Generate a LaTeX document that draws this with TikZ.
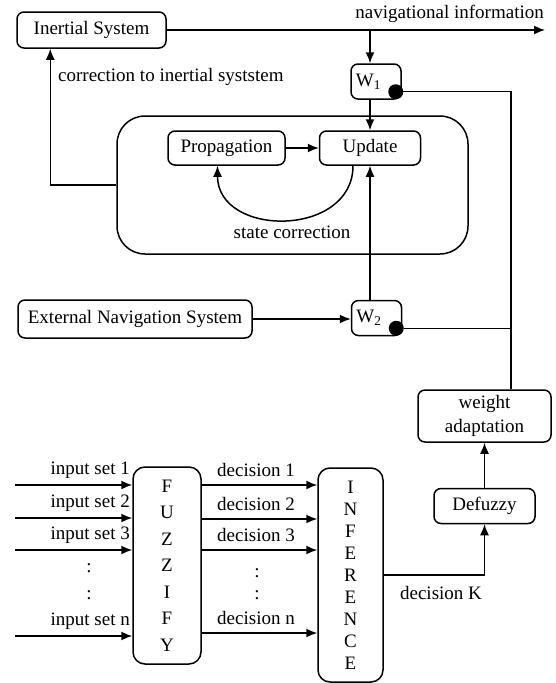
\documentclass[tikz,border=0pt]{standalone}
\usepackage{fontspec}
\setmainfont{Liberation Serif}
\usetikzlibrary{arrows.meta,positioning}
\tikzset{
  blk/.style={draw,line width=1.5pt,rounded corners=7pt,align=center,inner sep=2pt},
  wbox/.style={blk,minimum width=50pt,minimum height=35pt},
  bar/.style={blk,rounded corners=12pt},
  lbl/.style={inner sep=1pt},
  knob/.style={circle,fill,inner sep=0pt,minimum size=15pt},
  arrow/.style={-{Latex[length=11pt,width=9pt]},line width=1.5pt},
  wire/.style={line width=1.1pt}
}

\begin{document}
\begin{tikzpicture}[x=1pt,y=-1pt,font=\fontsize{19}{22}\selectfont,node distance=33pt]
\useasboundingbox (0,0) rectangle (556,683);
\node[blk,minimum width=149pt,minimum height=36pt] (inertial) at (91.5,30) {Inertial System};
\node[wbox] (w1) at (376,81.5) {W\textsubscript{1}\hspace*{15pt}};
\node[knob] (k1) at ([xshift=-6pt,yshift=8pt]w1.south east) {};
\node[blk,rounded corners=28pt,minimum width=351pt,minimum height=138pt] (filter) at (292.5,185) {};
\node[blk,minimum width=117pt,minimum height=34pt] (prop) at (226.5,148) {Propagation};
\node[blk,minimum width=101pt,minimum height=34pt,right=33pt of prop] (upd) {Update};
\node[blk,minimum width=234pt,minimum height=38pt] (ext) at (135,319) {External Navigation System};
\node[wbox] (w2) at (376.5,318) {W\textsubscript{2}\hspace*{15pt}};
\node[knob] (k2) at ([xshift=-6pt,yshift=8pt]w2.south east) {};
\node[blk,minimum width=133pt,minimum height=52pt,inner sep=1pt,font=\fontsize{19}{24}\selectfont] (wadapt) at (484.5,416) {weight\\adaptation};
\node[blk,minimum width=101pt,minimum height=35pt,below=45pt of wadapt] (defuzzy) {Defuzzy};
\node[bar,minimum width=68pt,minimum height=197pt,font=\fontsize{19}{26.5}\selectfont] (fuzz) at (167,565.5) {F\\U\\Z\\Z\\I\\F\\Y};
\node[bar,minimum width=65pt,minimum height=214pt,font=\fontsize{19}{22}\selectfont] (infer) at (350.5,575) {I\\N\\F\\E\\R\\E\\N\\C\\E};
\coordinate (navend) at (545,30);
\coordinate (rail) at (511,0);

\node[lbl,anchor=east] (navlbl) at (545,14) {navigational information};
\node[lbl,anchor=west] (corrlbl) at (57,77) {correction to inertial syststem};
\node[lbl] (statelbl) at (292,232) {state correction};
\node[lbl] (klbl) at (441,593) {decision K};

\draw[arrow] (inertial.east) -- (navend);
\draw[arrow] (inertial.east -| upd) -- (w1.north -| upd);
\draw[arrow] (w1.south -| upd) -- (upd.north);
\draw[arrow] (prop) -- (upd);
\draw[arrow] ([xshift=-17pt]upd.south) .. controls +(0,72) and +(0,72) .. ([xshift=-9pt]prop.south);
\draw[arrow] (filter.west) -| ([xshift=34pt]inertial.south west);
\draw[arrow] (ext.east) -- (ext.east -| w2.west);
\draw[arrow] (w2.north -| upd) -- (upd.south);
\draw[wire] (k1) -- (k1 -| rail) -- (rail |- wadapt.north);
\draw[wire] (k2) -- (k2 -| rail);
\draw[arrow] (defuzzy) -- (wadapt);
\draw[arrow] (infer.east) -| (defuzzy.south);

\foreach \y/\n [count=\i] in {485/1,518/2,550/3,636/n} {
  \coordinate (in\i) at (15,\y);
  \draw[arrow] (in\i) -- (in\i -| fuzz.west);
  \node[lbl,anchor=east] (inlbl\i) at (131,\y-15) {input set \n};
}
\foreach \y/\n [count=\i] in {485/1,519/2,550/3,633/n} {
  \coordinate (dy\i) at (0,\y);
  \draw[arrow] (fuzz.east |- dy\i) -- (infer.west |- dy\i);
  \node[lbl] (dclbl\i) at (256,\y-15) {decision \n};
}
\node[lbl] (indots1) at (89,568) {:};
\node[lbl] (indots2) at (89,595) {:};
\node[lbl] (dcdots1) at (257,573) {:};
\node[lbl] (dcdots2) at (257,595) {:};
\end{tikzpicture}
\end{document}
